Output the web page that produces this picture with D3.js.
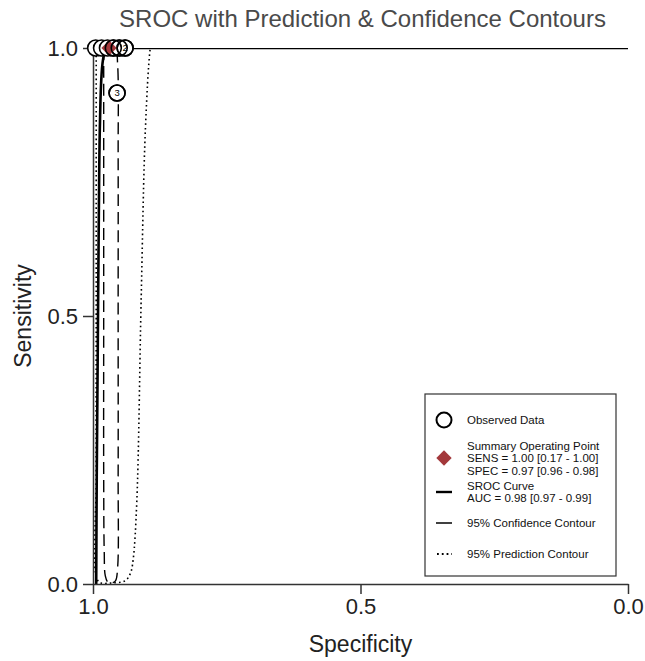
<!DOCTYPE html>
<html>
<head>
<meta charset="utf-8">
<script src="https://cdn.jsdelivr.net/npm/d3@7"></script>
<style>
  body { margin: 0; background: #fff; }
  svg text { font-family: "Liberation Sans", Arial, sans-serif; }
</style>
</head>
<body>
<div id="chart"></div>
<script>
// observed studies (specificity, sensitivity)
const studyIds = ["7", "5", "1", "4", "6", "2", "3"];
const studySpec = [0.995, 0.984, 0.973, 0.962, 0.951, 0.94, 0.955];
const studySens = [1.0, 1.0, 1.0, 1.0, 1.0, 1.0, 0.916];

// summary operating point
const summarySpec = 0.97;
const summarySens = 1.0;

// SROC curve
const srocSpec = [0.994, 0.993, 0.991, 0.989, 0.987, 0.984, 0.98, 0.972, 0.955, 0.9, 0.5, 0.0];
const srocSens = [0.0, 0.2, 0.45, 0.7, 0.86, 0.95, 0.985, 0.997, 1.0, 1.0, 1.0, 1.0];

// 95% confidence contour
const confSpec = [0.98, 0.98, 0.98, 0.98, 0.979, 0.977, 0.972, 0.965, 0.958, 0.954, 0.953, 0.953, 0.953, 0.954, 0.96, 0.972, 0.98];
const confSens = [1.0, 0.8, 0.5, 0.2, 0.06, 0.015, 0.003, 0.002, 0.006, 0.03, 0.2, 0.5, 0.8, 0.97, 1.02, 1.02, 1.0];

// 95% prediction contour
const predSpec = [0.994, 0.994, 0.994, 0.994, 0.993, 0.985, 0.965, 0.94, 0.93, 0.925, 0.918, 0.91, 0.902, 0.893, 0.885];
const predSens = [1.02, 0.8, 0.5, 0.2, 0.01, 0.002, 0.002, 0.006, 0.02, 0.045, 0.157, 0.53, 0.85, 1.0, 1.05];

const legendLabels = [
  ["Observed Data"],
  ["Summary Operating Point", "SENS = 1.00 [0.17 - 1.00]", "SPEC = 0.97 [0.96 - 0.98]"],
  ["SROC Curve", "AUC = 0.98 [0.97 - 0.99]"],
  ["95% Confidence Contour"],
  ["95% Prediction Contour"]
];

const W = 645, H = 661;
const margin = { top: 48, right: 17, bottom: 77, left: 93 };
const width = W - margin.left - margin.right,
  height = H - margin.top - margin.bottom;
const red = "#a3383b";

const svg = d3.select("#chart").append("svg").attr("width", W).attr("height", H);
const g = svg.append("g").attr("transform", `translate(${margin.left},${margin.top})`);

const x = d3.scaleLinear().domain([1, 0]).range([0, width]);
const y = d3.scaleLinear().domain([0, 1]).range([height, 0]);

g.append("clipPath").attr("id", "clip")
  .append("rect").attr("x", 0).attr("y", 0).attr("width", width).attr("height", height);

const plot = g.append("g").attr("clip-path", "url(#clip)");

const toPts = (sx, sy) => sx.map((d, i) => [d, sy[i]]);
const line = d3.line().x((d) => x(d[0])).y((d) => y(d[1]));

// prediction contour (dotted)
plot.append("path")
  .datum(toPts(predSpec, predSens))
  .attr("d", line.curve(d3.curveCatmullRom))
  .attr("fill", "none").attr("stroke", "#000").attr("stroke-width", 1.6)
  .attr("stroke-dasharray", "1.6,3");

// confidence contour (dashed)
plot.append("path")
  .datum(toPts(confSpec, confSens))
  .attr("d", line.curve(d3.curveCatmullRom))
  .attr("fill", "none").attr("stroke", "#000").attr("stroke-width", 1.4)
  .attr("stroke-dasharray", "12,6");

// SROC curve
plot.append("path")
  .datum(toPts(srocSpec, srocSens))
  .attr("d", line.curve(d3.curveMonotoneY))
  .attr("fill", "none").attr("stroke", "#000").attr("stroke-width", 2.6);

// axes
const yAxis = g.append("g")
  .call(d3.axisLeft(y).tickValues([0, 0.5, 1]).tickFormat(d3.format(".1f")).tickSize(10).tickSizeOuter(0).tickPadding(5));
const xAxis = g.append("g").attr("transform", `translate(0,${height})`)
  .call(d3.axisBottom(x).tickValues([1, 0.5, 0]).tickFormat(d3.format(".1f")).tickSize(10).tickSizeOuter(0).tickPadding(4));
[yAxis, xAxis].forEach((a) => {
  a.selectAll("path, line").attr("stroke", "#333").attr("stroke-width", 1.5);
  a.selectAll("text").attr("font-size", 22).attr("fill", "#222");
});

// observed data, drawn in order so later circles cover earlier labels
const studies = studyIds.map((id, i) => ({ id, spec: studySpec[i], sens: studySens[i] }));
const node = g.selectAll(".study")
  .data(studies)
  .enter()
  .append("g")
  .attr("class", "study")
  .attr("transform", (d) => `translate(${x(d.spec)},${y(d.sens)})`);
node.append("circle")
  .attr("r", 8)
  .attr("fill", "#fff")
  .attr("stroke", "#000")
  .attr("stroke-width", 1.6);
node.append("text")
  .attr("dy", "0.35em")
  .attr("text-anchor", "middle")
  .attr("font-size", 9.5)
  .text((d) => d.id);

// summary point
const diamond = d3.symbol().type(d3.symbolDiamond2).size(150);
g.append("path")
  .attr("d", diamond)
  .attr("transform", `translate(${x(summarySpec)},${y(summarySens)})`)
  .attr("fill", red);

// re-stroke circles on top of diamond
g.selectAll(".study-ring")
  .data(studies.filter((d) => d.spec < summarySpec))
  .enter()
  .append("circle")
  .attr("cx", (d) => x(d.spec))
  .attr("cy", (d) => y(d.sens))
  .attr("r", 8)
  .attr("fill", "none")
  .attr("stroke", "#000")
  .attr("stroke-width", 1.6);

// titles
svg.append("text")
  .attr("x", margin.left + width / 2 + 2).attr("y", 27)
  .attr("text-anchor", "middle").attr("font-size", 24).attr("fill", "#4a4a4a")
  .text("SROC with Prediction & Confidence Contours");
svg.append("text")
  .attr("x", margin.left + width / 2).attr("y", 652)
  .attr("text-anchor", "middle").attr("font-size", 23).attr("fill", "#222")
  .text("Specificity");
svg.append("text")
  .attr("transform", `translate(31,${margin.top + height / 2}) rotate(-90)`)
  .attr("text-anchor", "middle").attr("font-size", 23).attr("fill", "#222")
  .text("Sensitivity");

// legend
const legend = svg.append("g").attr("transform", "translate(425,394)");
legend.append("rect")
  .attr("width", 191).attr("height", 182)
  .attr("fill", "#fff").attr("stroke", "#333").attr("stroke-width", 1.2);

const rowY = [26, 64, 98, 129, 160];
const sym = legend.append("g").attr("transform", "translate(19,0)");
sym.append("circle").attr("cx", 0).attr("cy", rowY[0]).attr("r", 7.5)
  .attr("fill", "none").attr("stroke", "#000").attr("stroke-width", 2);
sym.append("path").attr("d", diamond).attr("transform", `translate(0,${rowY[1]})`).attr("fill", red);
sym.append("line").attr("x1", -8).attr("x2", 8).attr("y1", rowY[2]).attr("y2", rowY[2])
  .attr("stroke", "#000").attr("stroke-width", 2.4);
sym.append("line").attr("x1", -8).attr("x2", 8).attr("y1", rowY[3]).attr("y2", rowY[3])
  .attr("stroke", "#000").attr("stroke-width", 1.5);
sym.append("line").attr("x1", -7).attr("x2", 8).attr("y1", rowY[4]).attr("y2", rowY[4])
  .attr("stroke", "#000").attr("stroke-width", 1.8).attr("stroke-dasharray", "1.8,3");

legendLabels.forEach((lines, i) => {
  const n = lines.length;
  const t = legend.append("text").attr("x", 42).attr("font-size", 11.5).attr("fill", "#111");
  lines.forEach((s, j) => {
    t.append("tspan").attr("x", 42)
      .attr("y", rowY[i] + (j - (n - 1) / 2) * 12.5)
      .attr("dy", "0.35em")
      .text(s);
  });
});
</script>
</body>
</html>
